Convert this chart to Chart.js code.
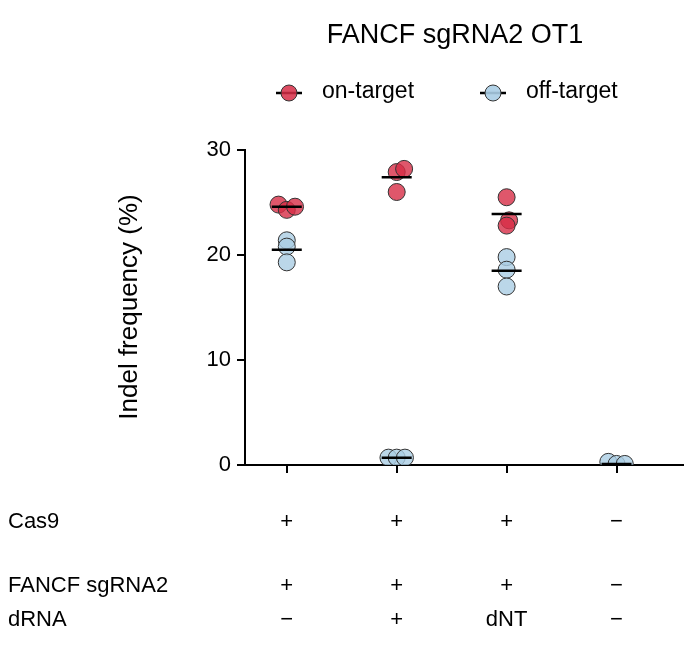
<!DOCTYPE html>
<html><head><meta charset="utf-8">
<script src="https://cdn.jsdelivr.net/npm/chart.js@4"></script>
<style>html,body{margin:0;padding:0;background:#fff}#w{width:700px;height:672px}</style>
</head><body><div id="w"><canvas id="c"></canvas></div>
<script>
const categories = [1, 2, 3, 4];
const onTarget = [[24.8, 24.3, 24.6], [27.9, 28.2, 26.0], [25.5, 23.3, 22.8], []];
const offTarget = [[21.4, 20.8, 19.3], [0.7, 0.7, 0.7], [19.8, 18.6, 17.0], [0.3, 0.1, 0.1]];
const onMeans = [24.6, 27.4, 23.9, null];
const offMeans = [20.5, 0.7, 18.5, 0.1];
const yTicks = [0, 10, 20, 30];
const rowLabels = ['Cas9', 'FANCF sgRNA2', 'dRNA'];
const rowValues = [['+', '+', '+', '−'], ['+', '+', '+', '−'], ['−', '+', 'dNT', '−']];
const jitter = {0: [-1, 0, 1], 1: [0, 0.9, 0], 2: [0, 0.3, 0]};
const jOff = {0: [0, 0, 0], 1: [-1, 0, 1], 2: [0, 0, 0], 3: [-1, 0, 1]};
const FONT = '"Liberation Sans", Arial, sans-serif';

function pts(arr, jit) {
  const out = [];
  arr.forEach((g, i) => g.forEach((v, k) => {
    const j = (jit[i] || [0,0,0])[k] || 0;
    out.push({x: categories[i] + j * 0.075, y: v});
  }));
  return out;
}
const onPts = pts(onTarget, jitter);
const offPts = pts(offTarget, jOff);
const meanPts = m => m.map((v, i) => v === null ? null : {x: categories[i], y: v}).filter(p => p);

const extras = {
  id: 'extras',
  afterDraw(ch) {
    const ctx = ch.ctx, xs = ch.scales.x;
    ctx.save();
    ctx.fillStyle = '#000';
    ctx.font = '27px ' + FONT;
    ctx.textAlign = 'center'; ctx.textBaseline = 'middle';
    ctx.fillText('FANCF sgRNA2 OT1', 455, 36);
    // y title
    ctx.save();
    ctx.translate(130, 307); ctx.rotate(-Math.PI / 2);
    ctx.font = '26px ' + FONT;
    ctx.fillText('Indel frequency (%)', 0, 0);
    ctx.restore();
    // legend
    const leg = [[289, 'on-target', 'rgba(215,45,70,0.85)'], [493, 'off-target', 'rgba(170,205,228,0.9)']];
    ctx.font = '23px ' + FONT; ctx.textAlign = 'left';
    leg.forEach(([x, t, c]) => {
      ctx.strokeStyle = '#000'; ctx.lineWidth = 2.5;
      ctx.beginPath(); ctx.moveTo(x - 13, 93); ctx.lineTo(x + 13, 93); ctx.stroke();
      ctx.beginPath(); ctx.arc(x, 93, 8, 0, Math.PI * 2);
      ctx.fillStyle = c; ctx.fill(); ctx.lineWidth = 1; ctx.strokeStyle = '#333'; ctx.stroke();
      ctx.fillStyle = '#000'; ctx.fillText(t, x + 33, 92);
    });
    // table rows
    const ys = [522, 586, 620];
    ctx.font = '22px ' + FONT;
    rowLabels.forEach((l, r) => {
      ctx.textAlign = 'left'; ctx.fillText(l, 8, ys[r]);
      ctx.textAlign = 'center';
      rowValues[r].forEach((v, i) => ctx.fillText(v, xs.getPixelForValue(categories[i]), ys[r]));
    });
    ctx.restore();
  }
};

new Chart(document.getElementById('c'), {
  type: 'scatter',
  data: {datasets: [
    {data: onPts, pointRadius: 8.5, pointHoverRadius: 8.5, backgroundColor: 'rgba(215,45,70,0.8)', borderColor: '#333', borderWidth: 1, order: 3},
    {data: offPts, pointRadius: 8.5, pointHoverRadius: 8.5, backgroundColor: 'rgba(170,205,228,0.8)', borderColor: '#333', borderWidth: 1, order: 3},
    {data: meanPts(onMeans), pointStyle: 'line', pointRadius: 15, borderColor: '#000', borderWidth: 2.5, order: 1},
    {data: meanPts(offMeans), pointStyle: 'line', pointRadius: 15, borderColor: '#000', borderWidth: 2.5, order: 1}
  ]},
  options: {
    animation: false, responsive: true, maintainAspectRatio: false,
    layout: {padding: {top: 150, right: 12, left: 0, bottom: 0}},
    plugins: {legend: {display: false}, tooltip: {enabled: false}},
    scales: {
      x: {type: 'linear', min: 0.62, max: 4.6,
        afterBuildTicks: s => { s.ticks = categories.map(v => ({value: v})); },
        afterFit: s => { s.height = 207; },
        border: {color: '#000', width: 2},
        grid: {drawOnChartArea: false, drawTicks: true, tickLength: 8, color: '#000', lineWidth: 2},
        ticks: {callback: () => '', font: {size: 1}}},
      y: {min: 0, max: 30,
        afterBuildTicks: s => { s.ticks = yTicks.map(v => ({value: v})); },
        afterFit: s => { s.width = 245; },
        border: {color: '#000', width: 2},
        grid: {drawOnChartArea: false, tickLength: 8, color: '#000', lineWidth: 2},
        ticks: {color: '#000', font: {size: 22, family: FONT}, padding: 6}}
    }
  },
  plugins: [extras]
});
</script></body></html>
